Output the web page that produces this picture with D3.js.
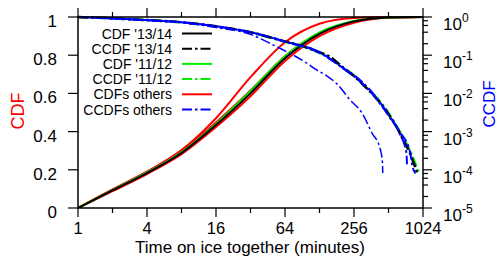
<!DOCTYPE html>
<html>
<head>
<meta charset="utf-8">
<script src="https://cdn.jsdelivr.net/npm/d3@7"></script>
<style>
  body { margin: 0; background: #fff; }
  text { font-family: "Liberation Sans", Arial, Helvetica, sans-serif; }
</style>
</head>
<body>
<div id="chart"></div>
<script>
// tick values
var xMajor = [1, 4, 16, 64, 256, 1024];
var xMinor = [2, 8, 32, 128, 512];
var cdfTicks = [0, 0.2, 0.4, 0.6, 0.8, 1];
var ccdfExps = [0, -1, -2, -3, -4, -5];

// CDF series (left axis)
var cdf1314 = [[1,0],[2,0.092],[4,0.183],[8,0.288],[16,0.434],[32,0.60],[64,0.784],[128,0.912],[256,0.977],[512,0.998],[1024,1]];
var cdf1112 = [[1,0],[2,0.094],[4,0.186],[8,0.292],[16,0.44],[32,0.612],[64,0.795],[128,0.92],[256,0.979],[512,0.998],[1024,1]];
var cdfOthersA = [[1,0],[2,0.097],[4,0.19],[8,0.303],[16,0.47],[32,0.685],[64,0.868],[128,0.965],[256,0.995],[512,1],[1024,1]];
var cdfOthersB = [[1,0],[2,0.096],[4,0.19],[8,0.298],[16,0.448],[32,0.615],[64,0.795],[128,0.915],[256,0.978],[512,0.998],[1024,1]];
var cdfOthersC = [[1,0],[2,0.088],[4,0.178],[8,0.282],[16,0.424],[32,0.585],[64,0.77],[128,0.9],[256,0.97],[512,0.996],[1024,1]];

// CCDF series (right axis, log)
var ccdf1314 = [[1,1],[2,0.92],[4,0.83],[8,0.73],[16,0.57],[32,0.40],[64,0.23],[96,0.165],[128,0.12],[158,0.09],[206,0.047],[261,0.027],[309,0.0166],[378,0.009],[461,0.0045],[527,0.0025],[604,0.0013],[689,0.0006],[788,0.00027],[873,0.00012],[912,0.00008]];
var ccdf1112 = [[1,1],[2,0.92],[4,0.83],[8,0.725],[16,0.56],[32,0.39],[64,0.225],[96,0.16],[128,0.115],[158,0.088],[206,0.048],[261,0.028],[309,0.017],[378,0.0095],[461,0.0048],[527,0.0027],[604,0.0014],[689,0.00068],[788,0.00032],[873,0.00015],[940,0.000085]];
var ccdfOthersA = [[1,1],[2,0.91],[4,0.81],[8,0.71],[16,0.53],[32,0.35],[48,0.2],[64,0.13],[96,0.066],[121,0.041],[150,0.028],[181,0.018],[236,0.0068],[300,0.0031],[367,0.00092],[431,0.00037],[454,0.00015],[456,0.000083]];
var ccdfOthersB = [[1,1],[2,0.92],[4,0.83],[8,0.73],[16,0.57],[32,0.4],[64,0.225],[128,0.115],[206,0.045],[256,0.028],[384,0.0085],[512,0.0026],[640,0.0009],[735,0.00027],[742,0.00014]];
var ccdfOthersC = [[1,1],[2,0.92],[4,0.83],[8,0.73],[16,0.57],[32,0.4],[64,0.23],[128,0.12],[206,0.046],[256,0.03],[384,0.0092],[512,0.0028],[640,0.001],[788,0.0003],[830,0.00012],[880,0.00008]];

var legendLabels = ["CDF '13/14", "CCDF '13/14", "CDF '11/12", "CCDF '11/12", "CDFs others", "CCDFs others"];

var width = 499, height = 257;
var margin = {left: 78, right: 76, top: 17, bottom: 49};
var x0 = margin.left, x1 = width - margin.right;
var y0 = height - margin.bottom, y1 = margin.top;

var x = d3.scaleLog().base(2).domain([1, 1024]).range([x0, x1]);
var yL = d3.scaleLinear().domain([0, 1]).range([y0, y1]);
var yR = d3.scaleLog().domain([1e-5, 1]).range([y0, y1]);

var svg = d3.select("#chart").append("svg")
  .attr("width", width).attr("height", height)
  .style("background", "#fff");

svg.append("clipPath").attr("id", "clip")
  .append("rect").attr("x", x0).attr("y", y1 - 2).attr("width", x1 - x0).attr("height", y0 - y1 + 2);

var lineL = d3.line().x(d => x(d[0])).y(d => yL(d[1])).curve(d3.curveMonotoneX);
var lineR = d3.line().x(d => x(d[0])).y(d => yR(d[1])).curve(d3.curveMonotoneX);

var dashDot = "10,3,2.5,3";
var plot = svg.append("g").attr("clip-path", "url(#clip)");

// others first, then '11/12, then '13/14
[cdfOthersA, cdfOthersB, cdfOthersC].forEach(function(s) {
  plot.append("path").datum(s).attr("d", lineL)
    .attr("fill", "none").attr("stroke", "#ff0000").attr("stroke-width", 2);
});
plot.append("path").datum(cdf1112).attr("d", lineL)
  .attr("fill", "none").attr("stroke", "#00ee00").attr("stroke-width", 2);
plot.append("path").datum(cdf1314).attr("d", lineL)
  .attr("fill", "none").attr("stroke", "#000").attr("stroke-width", 2);

plot.append("path").datum(ccdf1112).attr("d", lineR)
  .attr("fill", "none").attr("stroke", "#00ee00").attr("stroke-width", 2.5)
  .attr("stroke-dasharray", dashDot);
plot.append("path").datum(ccdf1314).attr("d", lineR)
  .attr("fill", "none").attr("stroke", "#000").attr("stroke-width", 2.5)
  .attr("stroke-dasharray", dashDot);
[ccdfOthersA, ccdfOthersB, ccdfOthersC].forEach(function(s, i) {
  plot.append("path").datum(s).attr("d", lineR)
    .attr("fill", "none").attr("stroke", "#0000ff").attr("stroke-width", i == 0 ? 1.5 : 2)
    .attr("stroke-dasharray", dashDot).attr("stroke-dashoffset", i * 4);
});

// frame
svg.append("rect").attr("x", x0).attr("y", y1).attr("width", x1 - x0).attr("height", y0 - y1)
  .attr("fill", "none").attr("stroke", "#000").attr("stroke-width", 1.5);

var ticks = svg.append("g").attr("stroke", "#000").attr("stroke-width", 1.2);
// x ticks bottom and top
xMajor.concat(xMinor).forEach(function(v) {
  var len = xMajor.indexOf(v) >= 0 ? 9 : 5;
  ticks.append("line").attr("x1", x(v)).attr("x2", x(v)).attr("y1", y0).attr("y2", y0 + len);
  ticks.append("line").attr("x1", x(v)).attr("x2", x(v)).attr("y1", y1).attr("y2", y1 - len);
});
// left ticks
cdfTicks.forEach(function(v) {
  ticks.append("line").attr("x1", x0 - 10).attr("x2", x0).attr("y1", yL(v)).attr("y2", yL(v));
});
// right ticks with minors at 2,4,6,8
ccdfExps.forEach(function(e) {
  var base = Math.pow(10, e);
  ticks.append("line").attr("x1", x1).attr("x2", x1 + 9).attr("y1", yR(base)).attr("y2", yR(base));
  if (e > -5) {
    [2, 4, 6, 8].forEach(function(m) {
      var v = base * m / 10;
      ticks.append("line").attr("x1", x1).attr("x2", x1 + 5).attr("y1", yR(v)).attr("y2", yR(v));
    });
  }
});

// tick labels
svg.append("g").selectAll("text").data(xMajor).enter().append("text")
  .attr("x", d => x(d)).attr("y", 234).attr("text-anchor", "middle")
  .attr("font-size", 16.5).attr("fill", "#000").text(d => d);

svg.append("g").selectAll("text").data(cdfTicks).enter().append("text")
  .attr("x", 57).attr("y", d => yL(d) + 10).attr("text-anchor", "end")
  .attr("font-size", 17).attr("fill", "#000").text(d => d);

var rl = svg.append("g").selectAll("text").data(ccdfExps).enter().append("text")
  .attr("x", 443).attr("y", d => yR(Math.pow(10, d)) + 13)
  .attr("font-size", 17).attr("fill", "#000");
rl.append("tspan").text("10");
rl.append("tspan").attr("dy", -8).attr("font-size", 12).text(d => d);

// axis labels
svg.append("text").attr("x", 250).attr("y", 252.5).attr("text-anchor", "middle")
  .attr("font-size", 17).attr("fill", "#000").text("Time on ice together (minutes)");
svg.append("text").attr("transform", "translate(24,111) rotate(-90)").attr("text-anchor", "middle")
  .attr("font-size", 18).attr("fill", "#ff0000").text("CDF");
svg.append("text").attr("transform", "translate(495,104) rotate(-90)").attr("text-anchor", "middle")
  .attr("font-size", 17).attr("fill", "#0000ff").text("CCDF");

// legend
var legColors = ["#000", "#000", "#00ee00", "#00ee00", "#ff0000", "#0000ff"];
var legDash = [null, dashDot, null, dashDot, null, dashDot];
var leg = svg.append("g");
legendLabels.forEach(function(l, i) {
  var yy = 33.5 + i * 15.2;
  leg.append("text").attr("x", 172).attr("y", yy + 5).attr("text-anchor", "end")
    .attr("font-size", 14).attr("fill", "#000").text(l);
  leg.append("line").attr("x1", 182).attr("x2", 212).attr("y1", yy).attr("y2", yy)
    .attr("stroke", legColors[i]).attr("stroke-width", 2)
    .attr("stroke-dasharray", legDash[i]);
});
</script>
</body>
</html>
